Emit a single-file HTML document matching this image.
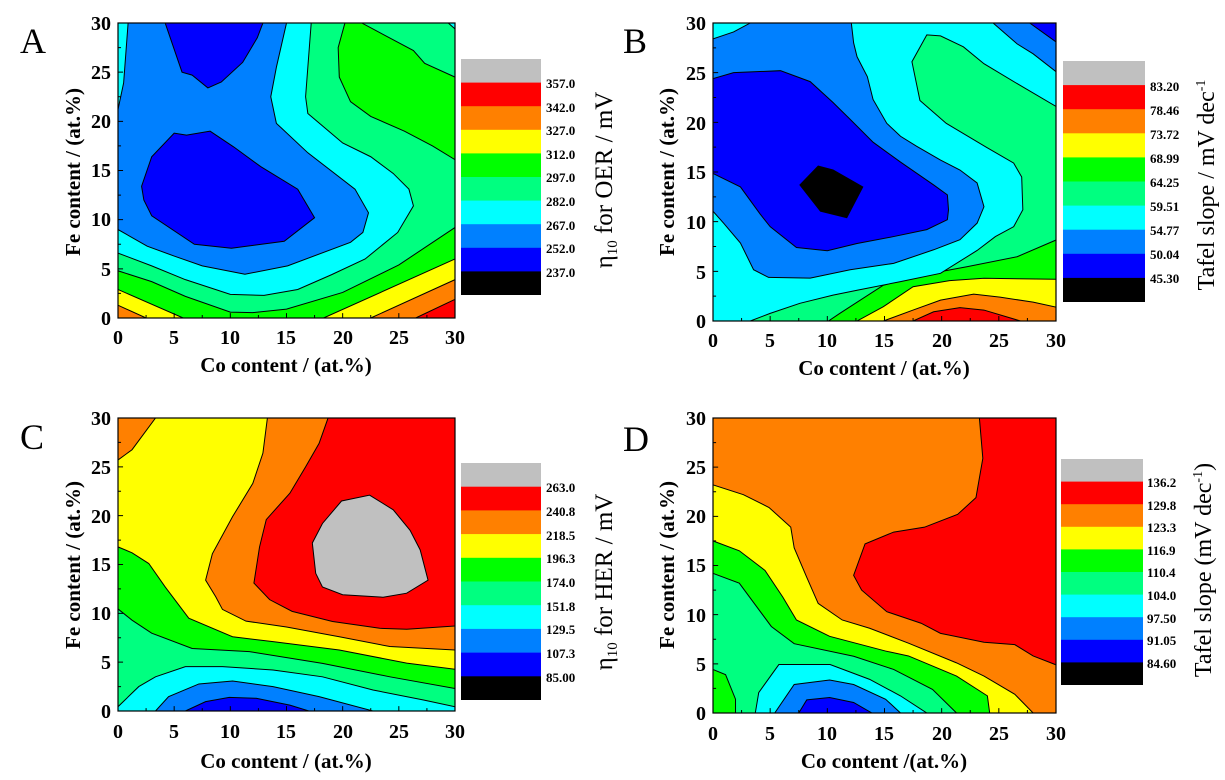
<!DOCTYPE html>
<html><head><meta charset="utf-8"><style>
body{margin:0;background:#fff}
svg{display:block;font-family:"Liberation Serif",serif}
.c polygon,.c rect{stroke:#000;stroke-width:1;vector-effect:non-scaling-stroke}
.c .bg{stroke:none}
.t{font-weight:bold;font-size:21px}
.lb{font-weight:bold;font-size:20px}
.cb{font-weight:bold;font-size:13px}
.R{fill:#ff0000}.O{fill:#ff8000}.Y{fill:#ffff00}.G{fill:#00ff00}.S{fill:#00ff80}.C{fill:#00ffff}.A{fill:#0080ff}.B{fill:#0000ff}.K{fill:#000}.Gr{fill:#c0c0c0}
</style></head><body>
<svg width="1225" height="780" viewBox="0 0 1225 780" xmlns="http://www.w3.org/2000/svg">
<defs>
<clipPath id="ca"><rect x="118" y="23" width="337" height="295"/></clipPath>
<clipPath id="cbp"><rect x="713" y="23" width="343" height="298"/></clipPath>
<clipPath id="cc"><rect x="118" y="418" width="337" height="293"/></clipPath>
<clipPath id="cd"><rect x="713" y="418" width="343" height="295"/></clipPath>
</defs>

<!-- Panel A -->
<g clip-path="url(#ca)"><g class="c" transform="translate(118,318) scale(11.233,-9.833)">
<rect class="bg R" x="-1" y="-1" width="33" height="33"/>
<polygon class="O" points="-1,-1 26.5,-1 26.5,0 30,1.9 31,2.1 31,31 -1,31"/>
<polygon class="Y" points="-1,1.3 0,1.3 2.5,0 2.5,-1 22.5,-1 22.5,0 30,3.9 31,4.2 31,31 -1,31"/>
<polygon class="G" points="-1,2.9 0,2.9 5.8,0 5.8,-1 18.3,-1 18.3,0 30,6 31,6.3 31,31 -1,31"/>
<polygon class="S" points="-1,4.8 0,4.8 3,3.7 6,2.2 10,0.6 12,0.55 15,0.9 20,2.6 25,5.4 30,9.2 31,9.4 31,31 -1,31"/>
<polygon class="G" points="20.2,31 20.2,30 19.6,27.5 19.7,24.5 20.7,22 22.5,20.5 25.5,19 28,17.5 30,16.1 31,16 31,24.3 30,24.5 27.3,25.9 26.3,27.2 21.7,30 21.7,31"/>
<polygon class="C" points="29.4,31 29.4,30 30,29.4 31,29.2 31,31"/>
<polygon class="C" points="-1,6.6 0,6.6 3,5.3 6,3.9 10,2.4 13,2.3 16,2.9 19,4.4 22,6 24.9,8.7 26.3,11.4 25.9,13.1 24.5,14.7 22.5,16.4 20,17.8 16.9,20.8 16.7,22.5 16.9,25.5 17.2,30 17.2,31 -1,31"/>
<polygon class="A" points="-1,9 0,9 2.6,7.3 5,6.3 7.5,5.3 11.3,4.45 15.1,5.3 20.7,7.7 21.8,8.7 22.3,10.7 21.1,13.1 16.9,16.8 14.1,19.8 13.6,22.5 14.1,25.5 15,30 15,31 0.9,31 0.9,30 0.5,23.9 0,21.2 -1,21.2"/>
<polygon class="B" points="2.1,13.4 3,16.4 5,18.8 6.1,18.6 8.2,19 10.3,17.4 12.7,15.4 16,13.1 17.5,10.2 14.8,7.8 10.1,7.1 6.8,7.5 3,10.4 2.3,12"/>
<polygon class="B" points="4.2,31 4.2,30 5.7,25 6.6,24.7 8,23.4 9.2,24 11.1,26 12.4,28.5 12.9,30 12.9,31"/>
<path d="M0,0v.5M2.5,0v.3M5,0v.5M7.5,0v.3M10,0v.5M12.5,0v.3M15,0v.5M17.5,0v.3M20,0v.5M22.5,0v.3M25,0v.5M27.5,0v.3M30,0v.5M0,2.5h.27M0,5h.45M0,7.5h.27M0,10h.45M0,12.5h.27M0,15h.45M0,17.5h.27M0,20h.45M0,22.5h.27M0,25h.45M0,27.5h.27" stroke="#000" stroke-width="1" vector-effect="non-scaling-stroke"/>
</g></g>
<rect x="118" y="23" width="337" height="295" fill="none" stroke="#000" stroke-width="1.2"/>

<!-- Panel B -->
<g clip-path="url(#cbp)"><g class="c" transform="translate(713,321) scale(11.433,-9.933)">
<rect class="bg S" x="-1" y="-1" width="33" height="33"/>
<polygon class="G" points="10.1,-1 10.1,0 11.1,0.77 14.9,3.6 17.5,4.46 22.2,5.46 26.6,6.47 30,8.15 31,8.3 31,-1"/>
<polygon class="Y" points="12.6,-1 12.6,0 14.9,1.44 17.5,3.45 20.7,4.06 23.7,4.3 30,4.2 31,4.2 31,-1"/>
<polygon class="O" points="14.9,-1 14.9,0 17.5,1.1 19.9,2.1 22.8,2.7 25.1,2.4 28,1.9 30,1.4 31,1.4 31,-1"/>
<polygon class="R" points="17.5,-1 17.5,0 19.3,0.93 21.6,1.34 23.7,1.1 26.9,0 26.9,-1"/>
<polygon class="C" points="3.26,-1 3.26,0 5,0.77 7.6,1.78 10.5,2.6 12.6,3.1 16.4,3.96 19.9,4.8 23.1,7.1 24.7,8.5 26.3,9.5 27.1,11.2 27,14.5 26.3,15.9 23.9,17.5 20.4,19.9 18.1,22.2 17.4,26.1 18.7,28.8 19.9,28.7 21.9,27.6 23.7,25.9 26.6,23.9 30,21.6 31,21.4 31,31 -1,31 -1,-1"/>
<polygon class="A" points="-1,11.05 0,11.05 0.93,9.85 2.4,7.85 3.55,5.16 4.86,4.39 8.5,4.32 12,5.16 15.8,5.8 19.3,7.17 21.6,8.18 23.1,9.85 23.7,11.5 23.1,13.9 21.6,15.2 19.9,16.2 17.8,17.6 16.4,18.6 15.2,19.9 14,22.3 13.5,24.6 12.6,26.6 12.3,28 12.1,30 12.1,31 3.26,31 3.26,30 1.8,29.1 0,28.4 -1,28.4"/>
<polygon class="A" points="24.5,31 24.5,30 26.6,27.9 28,26.9 30,25.1 31,24.9 31,31"/>
<polygon class="B" points="27.7,31 27.7,30 30,28.1 31,28 31,31"/>
<polygon class="B" points="-1,24.4 0,24.4 1.8,25 5.9,25.2 8.5,24.1 10.5,22 12,20.3 14,18 16.4,16 19.3,13.7 20.5,12.7 20.6,11.2 20.5,10.2 18.7,9.2 15.8,8.5 12.6,7.8 10,7.07 7.3,7.4 5,9.5 4.1,10.8 2.4,13.5 0,14.85 -1,14.85"/>
<polygon class="K" points="7.6,13.7 9.2,15.6 10.5,15.2 13.1,13.5 11.7,10.4 9.4,11.06"/>
<path d="M0,0v.5M2.5,0v.3M5,0v.5M7.5,0v.3M10,0v.5M12.5,0v.3M15,0v.5M17.5,0v.3M20,0v.5M22.5,0v.3M25,0v.5M27.5,0v.3M30,0v.5M0,2.5h.27M0,5h.45M0,7.5h.27M0,10h.45M0,12.5h.27M0,15h.45M0,17.5h.27M0,20h.45M0,22.5h.27M0,25h.45M0,27.5h.27" stroke="#000" stroke-width="1" vector-effect="non-scaling-stroke"/>
</g></g>
<rect x="713" y="23" width="343" height="298" fill="none" stroke="#000" stroke-width="1.2"/>

<!-- Panel C -->
<g clip-path="url(#cc)"><g class="c" transform="translate(118,711) scale(11.233,-9.767)">
<rect class="bg Y" x="-1" y="-1" width="33" height="33"/>
<polygon class="O" points="13.3,31 13.3,30 12.9,26.4 12,23.3 10.2,19.9 8.4,16.1 7.8,13.4 8.7,11.7 9.3,10.4 11.4,9.2 15,8.6 19.7,7.6 24.2,6.6 30,6.25 31,6.25 31,31"/>
<polygon class="O" points="-1,25.7 0,25.7 1.25,26.75 3.34,30 3.34,31 -1,31"/>
<polygon class="R" points="18.7,31 18.7,30 17.9,27.4 16.7,25 15.3,22.3 13.2,19.6 12.6,16.8 12.1,13.1 13.5,11.4 15.5,10.2 19.1,9.16 23.3,8.47 25.7,8.37 30,8.7 31,8.7 31,31"/>
<polygon class="Gr" points="17.3,17.2 18.2,19.2 19.9,21.5 22.4,22.1 24.5,20.6 26,18.5 26.9,16.5 27.6,13.4 25.7,12.06 23.6,11.65 20,11.9 18.2,12.7 17.6,14.1"/>
<polygon class="G" points="-1,16.8 0,16.8 1.25,16.2 2.74,15.1 4.2,12.7 6.3,9.5 10.2,7.6 13.8,7.1 19.7,6.25 25.7,4.9 30,4.27 31,4.27 31,-1 -1,-1"/>
<polygon class="S" points="-1,10.45 0,10.45 1.25,9.3 3,7.97 6.6,6.4 11.7,6.08 18.2,4.88 24.2,3.5 30,2.3 31,2.3 31,-1 -1,-1"/>
<polygon class="C" points="-1,0.44 0,0.44 1.85,2.5 3.34,3.5 6,4.54 9.3,4.54 13.8,4.2 18.2,3.5 22.7,2.15 27.2,1.13 30,0.44 31,0.44 31,-1 -1,-1"/>
<polygon class="A" points="3.34,-1 3.34,0 4.5,1.47 7.2,2.77 10.2,3.07 13.8,2.5 17.9,1.47 22.7,0 22.7,-1"/>
<polygon class="B" points="6,-1 6,0 7.8,0.96 9.9,1.4 12.3,1.3 15.3,0.6 17,0 17,-1"/>
<path d="M0,0v.5M2.5,0v.3M5,0v.5M7.5,0v.3M10,0v.5M12.5,0v.3M15,0v.5M17.5,0v.3M20,0v.5M22.5,0v.3M25,0v.5M27.5,0v.3M30,0v.5M0,2.5h.27M0,5h.45M0,7.5h.27M0,10h.45M0,12.5h.27M0,15h.45M0,17.5h.27M0,20h.45M0,22.5h.27M0,25h.45M0,27.5h.27" stroke="#000" stroke-width="1" vector-effect="non-scaling-stroke"/>
</g></g>
<rect x="118" y="418" width="337" height="293" fill="none" stroke="#000" stroke-width="1.2"/>

<!-- Panel D -->
<g clip-path="url(#cd)"><g class="c" transform="translate(713,713) scale(11.433,-9.833)">
<rect class="bg O" x="-1" y="-1" width="33" height="33"/>
<polygon class="R" points="23.3,31 23.3,30 23.6,25.9 23,21.9 21.4,20.2 18.5,18.9 15.8,18.4 13.3,17.2 12.3,14 13,12.5 15.2,10.3 18.2,9.13 19.9,8.1 23.7,7.2 26.4,6.95 28,5.8 30,4.9 31,4.9 31,31"/>
<polygon class="Y" points="-1,23.2 0,23.2 2.66,22.2 4.9,20.9 6.8,18.9 7.1,16.8 8.2,13.8 9.2,11.14 11.3,9.46 13.7,8.62 17.1,7.1 21.3,5.1 23.7,3.76 26.4,1.9 28,0 28,-1 -1,-1"/>
<polygon class="G" points="-1,17.5 0,17.5 2.3,16.5 4.55,14.5 6.1,11.8 7.3,9.46 10.2,7.8 15.1,6.3 17.1,5.8 21.3,3.76 24,1.74 24.2,0 24.2,-1 -1,-1"/>
<polygon class="S" points="-1,14.2 0,14.2 2.3,13.2 5.1,8.8 7.1,7.05 12.3,5.77 15.8,4.43 19.2,2.4 21.3,0 21.3,-1 -1,-1"/>
<polygon class="G" points="-1,4.43 0,4.43 1.1,3.9 1.97,1.4 1.97,0 1.97,-1 -1,-1"/>
<polygon class="C" points="3.7,-1 3.7,0 4,2.08 5.76,4.93 10.24,4.93 13.7,3.42 16.4,1.74 18.7,0 18.7,-1"/>
<polygon class="A" points="5.4,-1 5.4,0 7.1,2.9 10.2,3.36 12.3,2.9 15.1,1.4 16.4,0 16.4,-1"/>
<polygon class="B" points="7.5,-1 7.5,0 8.2,1.34 10.2,1.58 12.3,1.07 13.9,0 13.9,-1"/>
<path d="M0,0v.5M2.5,0v.3M5,0v.5M7.5,0v.3M10,0v.5M12.5,0v.3M15,0v.5M17.5,0v.3M20,0v.5M22.5,0v.3M25,0v.5M27.5,0v.3M30,0v.5M0,2.5h.27M0,5h.45M0,7.5h.27M0,10h.45M0,12.5h.27M0,15h.45M0,17.5h.27M0,20h.45M0,22.5h.27M0,25h.45M0,27.5h.27" stroke="#000" stroke-width="1" vector-effect="non-scaling-stroke"/>
</g></g>
<rect x="713" y="418" width="343" height="295" fill="none" stroke="#000" stroke-width="1.2"/>

<!-- Colorbars -->
<g>
<rect class="Gr" x="461" y="59" width="80" height="24"/><rect class="R" x="461" y="82.6" width="80" height="24"/><rect class="O" x="461" y="106.2" width="80" height="24"/><rect class="Y" x="461" y="129.8" width="80" height="24"/><rect class="G" x="461" y="153.4" width="80" height="24"/><rect class="S" x="461" y="177" width="80" height="24"/><rect class="C" x="461" y="200.6" width="80" height="24"/><rect class="A" x="461" y="224.2" width="80" height="24"/><rect class="B" x="461" y="247.8" width="80" height="24"/><rect class="K" x="461" y="271.4" width="80" height="23.6"/>
<g class="cb"><text x="546" y="88">357.0</text><text x="546" y="112">342.0</text><text x="546" y="135">327.0</text><text x="546" y="159">312.0</text><text x="546" y="182">297.0</text><text x="546" y="206">282.0</text><text x="546" y="230">267.0</text><text x="546" y="253">252.0</text><text x="546" y="277">237.0</text></g>

<rect class="Gr" x="1063" y="61" width="82" height="24.5"/><rect class="R" x="1063" y="85.1" width="82" height="24.5"/><rect class="O" x="1063" y="109.2" width="82" height="24.5"/><rect class="Y" x="1063" y="133.3" width="82" height="24.5"/><rect class="G" x="1063" y="157.4" width="82" height="24.5"/><rect class="S" x="1063" y="181.5" width="82" height="24.5"/><rect class="C" x="1063" y="205.6" width="82" height="24.5"/><rect class="A" x="1063" y="229.7" width="82" height="24.5"/><rect class="B" x="1063" y="253.8" width="82" height="24.5"/><rect class="K" x="1063" y="277.9" width="82" height="24.1"/>
<g class="cb"><text x="1150" y="91">83.20</text><text x="1150" y="115">78.46</text><text x="1150" y="139">73.72</text><text x="1150" y="163">68.99</text><text x="1150" y="187">64.25</text><text x="1150" y="211">59.51</text><text x="1150" y="235">54.77</text><text x="1150" y="259">50.04</text><text x="1150" y="283">45.30</text></g>

<rect class="Gr" x="461" y="463" width="80" height="24"/><rect class="R" x="461" y="486.7" width="80" height="24"/><rect class="O" x="461" y="510.4" width="80" height="24"/><rect class="Y" x="461" y="534.1" width="80" height="24"/><rect class="G" x="461" y="557.8" width="80" height="24"/><rect class="S" x="461" y="581.5" width="80" height="24"/><rect class="C" x="461" y="605.2" width="80" height="24"/><rect class="A" x="461" y="628.9" width="80" height="24"/><rect class="B" x="461" y="652.6" width="80" height="24"/><rect class="K" x="461" y="676.3" width="80" height="23.7"/>
<g class="cb"><text x="546" y="492">263.0</text><text x="546" y="516">240.8</text><text x="546" y="540">218.5</text><text x="546" y="563">196.3</text><text x="546" y="587">174.0</text><text x="546" y="611">151.8</text><text x="546" y="634">129.5</text><text x="546" y="658">107.3</text><text x="546" y="682">85.00</text></g>

<rect class="Gr" x="1061" y="459" width="82" height="23"/><rect class="R" x="1061" y="481.6" width="82" height="23"/><rect class="O" x="1061" y="504.2" width="82" height="23"/><rect class="Y" x="1061" y="526.8" width="82" height="23"/><rect class="G" x="1061" y="549.4" width="82" height="23"/><rect class="S" x="1061" y="572" width="82" height="23"/><rect class="C" x="1061" y="594.6" width="82" height="23"/><rect class="A" x="1061" y="617.2" width="82" height="23"/><rect class="B" x="1061" y="639.8" width="82" height="23"/><rect class="K" x="1061" y="662.4" width="82" height="22.6"/>
<g class="cb"><text x="1147" y="487">136.2</text><text x="1147" y="510">129.8</text><text x="1147" y="532">123.3</text><text x="1147" y="555">116.9</text><text x="1147" y="577">110.4</text><text x="1147" y="600">104.0</text><text x="1147" y="623">97.50</text><text x="1147" y="645">91.05</text><text x="1147" y="668">84.60</text></g>
</g>

<!-- Colorbar titles -->
<text transform="translate(612,180) rotate(-90)" text-anchor="middle" font-size="25">η<tspan font-size="15" dy="5">10</tspan><tspan dy="-5"> for OER / mV</tspan></text>
<text transform="translate(1214,185) rotate(-90)" text-anchor="middle" font-size="24">Tafel slope / mV dec<tspan font-size="14" dy="-9">-1</tspan></text>
<text transform="translate(612,582) rotate(-90)" text-anchor="middle" font-size="25">η<tspan font-size="15" dy="5">10</tspan><tspan dy="-5"> for HER / mV</tspan></text>
<text transform="translate(1211,570) rotate(-90)" text-anchor="middle" font-size="24">Tafel slope (mV dec<tspan font-size="14" dy="-9">-1</tspan><tspan dy="9">)</tspan></text>

<!-- Panel letters -->
<text x="20" y="53" font-size="36">A</text>
<text x="623" y="53" font-size="36">B</text>
<text x="20" y="449" font-size="36">C</text>
<text x="623" y="451" font-size="36">D</text>

<!-- Tick labels A -->
<g class="lb" text-anchor="end"><text x="111" y="30">30</text><text x="111" y="79">25</text><text x="111" y="128">20</text><text x="111" y="177">15</text><text x="111" y="226">10</text><text x="111" y="276">5</text><text x="111" y="325">0</text></g>
<g class="lb" text-anchor="middle"><text x="118" y="344">0</text><text x="174" y="344">5</text><text x="230" y="344">10</text><text x="286" y="344">15</text><text x="343" y="344">20</text><text x="399" y="344">25</text><text x="455" y="344">30</text></g>
<text class="t" x="286" y="372" text-anchor="middle">Co content / (at.%)</text>
<text class="t" transform="translate(80,172) rotate(-90)" text-anchor="middle">Fe content / (at.%)</text>

<!-- Tick labels B -->
<g class="lb" text-anchor="end"><text x="706" y="30">30</text><text x="706" y="80">25</text><text x="706" y="130">20</text><text x="706" y="179">15</text><text x="706" y="229">10</text><text x="706" y="279">5</text><text x="706" y="328">0</text></g>
<g class="lb" text-anchor="middle"><text x="713" y="347">0</text><text x="770" y="347">5</text><text x="827" y="347">10</text><text x="884" y="347">15</text><text x="942" y="347">20</text><text x="999" y="347">25</text><text x="1056" y="347">30</text></g>
<text class="t" x="884" y="375" text-anchor="middle">Co content / (at.%)</text>
<text class="t" transform="translate(674,172) rotate(-90)" text-anchor="middle">Fe content / (at.%)</text>

<!-- Tick labels C -->
<g class="lb" text-anchor="end"><text x="111" y="425">30</text><text x="111" y="474">25</text><text x="111" y="523">20</text><text x="111" y="571">15</text><text x="111" y="620">10</text><text x="111" y="669">5</text><text x="111" y="718">0</text></g>
<g class="lb" text-anchor="middle"><text x="118" y="738">0</text><text x="174" y="738">5</text><text x="230" y="738">10</text><text x="286" y="738">15</text><text x="343" y="738">20</text><text x="399" y="738">25</text><text x="455" y="738">30</text></g>
<text class="t" x="286" y="768" text-anchor="middle">Co content / (at.%)</text>
<text class="t" transform="translate(80,565) rotate(-90)" text-anchor="middle">Fe content / (at.%)</text>

<!-- Tick labels D -->
<g class="lb" text-anchor="end"><text x="706" y="425">30</text><text x="706" y="474">25</text><text x="706" y="523">20</text><text x="706" y="572">15</text><text x="706" y="622">10</text><text x="706" y="671">5</text><text x="706" y="720">0</text></g>
<g class="lb" text-anchor="middle"><text x="713" y="740">0</text><text x="770" y="740">5</text><text x="827" y="740">10</text><text x="884" y="740">15</text><text x="942" y="740">20</text><text x="999" y="740">25</text><text x="1056" y="740">30</text></g>
<text class="t" x="884" y="768" text-anchor="middle">Co content /(at.%)</text>
<text class="t" transform="translate(674,565) rotate(-90)" text-anchor="middle">Fe content / (at.%)</text>
</svg>
</body></html>
